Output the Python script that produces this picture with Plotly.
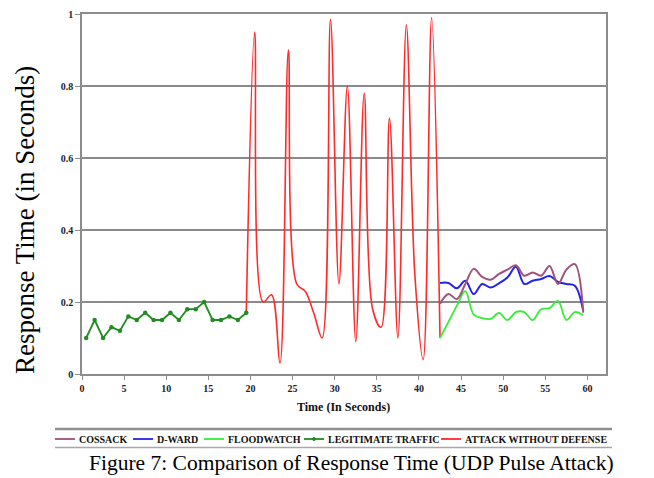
import plotly.graph_objects as go

# ---------------- data ----------------
legit_x = [0.5, 1.5, 2.5, 3.5, 4.5, 5.5, 6.5, 7.5, 8.5, 9.5,
           10.5, 11.5, 12.5, 13.5, 14.5, 15.5, 16.5, 17.5, 18.5, 19.5]
legit_y = [0.10, 0.15, 0.10, 0.13, 0.12, 0.16, 0.15, 0.17, 0.15, 0.15,
           0.17, 0.15, 0.18, 0.18, 0.20, 0.15, 0.15, 0.16, 0.15, 0.17]

attack_x = [19.5, 20.5, 21.5, 22.5, 23.5, 24.5, 25.5, 26.5, 27.5, 28.5, 29.5, 30.5,
            31.5, 32.5, 33.5, 34.5, 35.5, 36.5, 37.5, 38.5, 39.5, 40.5, 41.5, 42.5]
attack_y = [0.17, 0.95, 0.20, 0.22, 0.03, 0.90, 0.25, 0.23, 0.17, 0.10, 0.985, 0.25,
            0.80, 0.09, 0.78, 0.18, 0.13, 0.71, 0.10, 0.97, 0.28, 0.04, 0.99, 0.10]

defense_x = [42.5, 43.5, 44.5, 45.5, 46.5, 47.5, 48.5, 49.5, 50.5,
             51.5, 52.5, 53.5, 54.5, 55.5, 56.5, 57.5, 58.5, 59.5]
cossack_y = [0.195, 0.222, 0.208, 0.25, 0.292, 0.27, 0.262, 0.278, 0.29,
             0.302, 0.273, 0.282, 0.273, 0.30, 0.25, 0.29, 0.305, 0.17]
dward_y = [0.253, 0.253, 0.238, 0.259, 0.222, 0.25, 0.24, 0.252, 0.268,
           0.298, 0.25, 0.259, 0.264, 0.272, 0.256, 0.25, 0.245, 0.175]
floodwatch_y = [0.10, 0.145, 0.19, 0.23, 0.165, 0.155, 0.153, 0.17, 0.15,
                0.172, 0.172, 0.15, 0.18, 0.183, 0.203, 0.15, 0.172, 0.163]

x_ticks = [0, 5, 10, 15, 20, 25, 30, 35, 40, 45, 50, 55, 60]
y_ticks = [0, 0.2, 0.4, 0.6, 0.8, 1]
y_tick_labels = ["0", "0.2", "0.4", "0.6", "0.8", "1"]

series_names = ["COSSACK", "D-WARD", "FLOODWATCH", "LEGITIMATE TRAFFIC", "ATTACK WITHOUT DEFENSE"]
series_colors = ["#a0527a", "#2323ee", "#35ee35", "#228b22", "#ff2a2a"]

x_title = "Time (In Seconds)"
y_title = "Response Time (in Seconds)"
caption = "Figure 7: Comparison of Response Time (UDP Pulse Attack)"

# ---------------- layout geometry ----------------
# the page body has an 8px margin, so the figure is drawn 8px in from the top-left
OFF = 8
W, H = 654 - OFF, 478 - OFF
# plot-area edges in page pixels
L, R, T, B = 82, 606, 14, 374


def px(x):
    return (x - L) / (R - L)


def py(y):
    return (B - y) / (B - T)


SERIF = "Liberation Serif, Times New Roman, serif"

fig = go.Figure()

fig.add_trace(go.Scatter(x=attack_x, y=attack_y, mode="lines", name=series_names[4],
                         line=dict(color=series_colors[4], width=1.6, shape="spline", smoothing=1)))
fig.add_trace(go.Scatter(x=defense_x, y=floodwatch_y, mode="lines", name=series_names[2],
                         line=dict(color=series_colors[2], width=1.8, shape="spline", smoothing=1)))
fig.add_trace(go.Scatter(x=defense_x, y=dward_y, mode="lines", name=series_names[1],
                         line=dict(color=series_colors[1], width=2, shape="spline", smoothing=1)))
fig.add_trace(go.Scatter(x=defense_x, y=cossack_y, mode="lines", name=series_names[0],
                         line=dict(color=series_colors[0], width=2, shape="spline", smoothing=1)))
fig.add_trace(go.Scatter(x=legit_x, y=legit_y, mode="lines+markers", name=series_names[3],
                         line=dict(color=series_colors[3], width=1.8),
                         marker=dict(color=series_colors[3], size=4.5, symbol="circle")))

axis_gray = "#8c8c8c"
fig.update_xaxes(range=[0, 62.2], tickvals=x_ticks, ticks="outside", ticklen=4,
                 tickcolor=axis_gray, tickwidth=1, showgrid=False, zeroline=False,
                 showline=True, linecolor=axis_gray, linewidth=1.5, mirror=True,
                 automargin=False, ticklabeloverflow="allow",
                 tickfont=dict(family=SERIF, size=10, color="#222", weight="bold"))
fig.update_yaxes(range=[0, 1], tickvals=y_ticks, ticktext=y_tick_labels, ticks="outside",
                 ticklen=5, tickcolor=axis_gray, tickwidth=1, showgrid=True,
                 gridcolor="#8a8a8a", gridwidth=1.5, zeroline=False,
                 showline=True, linecolor=axis_gray, linewidth=1.5, mirror=True,
                 automargin=False, ticklabeloverflow="allow",
                 tickfont=dict(family=SERIF, size=10, color="#222", weight="bold"))

annotations = [
    dict(text=x_title, x=px(343), y=py(407), xref="paper", yref="paper",
         xanchor="center", yanchor="middle", showarrow=False,
         font=dict(family=SERIF, size=12, color="#111", weight="bold")),
    dict(text=y_title, x=px(25), y=py(220), xref="paper", yref="paper",
         xanchor="center", yanchor="middle", showarrow=False, textangle=-90,
         font=dict(family=SERIF, size=27, color="#000")),
    dict(text=caption, x=px(351), y=py(463), xref="paper", yref="paper",
         xanchor="center", yanchor="middle", showarrow=False,
         font=dict(family=SERIF, size=21.5, color="#000")),
]

shapes = [
    dict(type="line", xref="paper", yref="paper", x0=px(55), x1=px(612), y0=py(429), y1=py(429),
         line=dict(color="#8f8f8f", width=2.5)),
    dict(type="line", xref="paper", yref="paper", x0=px(55), x1=px(612), y0=py(447.5), y1=py(447.5),
         line=dict(color="#a8a8a8", width=1.5)),
]

# manual legend (line sample + label)
legend_starts = [55, 133, 204, 304, 441]
legend_y = 439
for name, color, x0 in zip(series_names, series_colors, legend_starts):
    shapes.append(dict(type="line", xref="paper", yref="paper", x0=px(x0), x1=px(x0 + 20),
                       y0=py(legend_y), y1=py(legend_y), line=dict(color=color, width=1.8)))
    annotations.append(dict(text=name, x=px(x0 + 22), y=py(legend_y), xref="paper", yref="paper",
                            xanchor="left", yanchor="middle", showarrow=False,
                            font=dict(family=SERIF, size=10, color="#111", weight="bold")))
    if name == "LEGITIMATE TRAFFIC":
        shapes.append(dict(type="circle", xref="paper", yref="paper",
                           x0=px(x0 + 8.5), x1=px(x0 + 11.5), y0=py(legend_y + 1.5), y1=py(legend_y - 1.5),
                           fillcolor=color, line=dict(color=color, width=1)))

fig.update_layout(width=W, height=H,
                  margin=dict(l=L - OFF, r=W - (R - OFF), t=T - OFF, b=H - (B - OFF), autoexpand=False),
                  plot_bgcolor="white", paper_bgcolor="white", showlegend=False,
                  annotations=annotations, shapes=shapes)

fig.write_html("out.html")
